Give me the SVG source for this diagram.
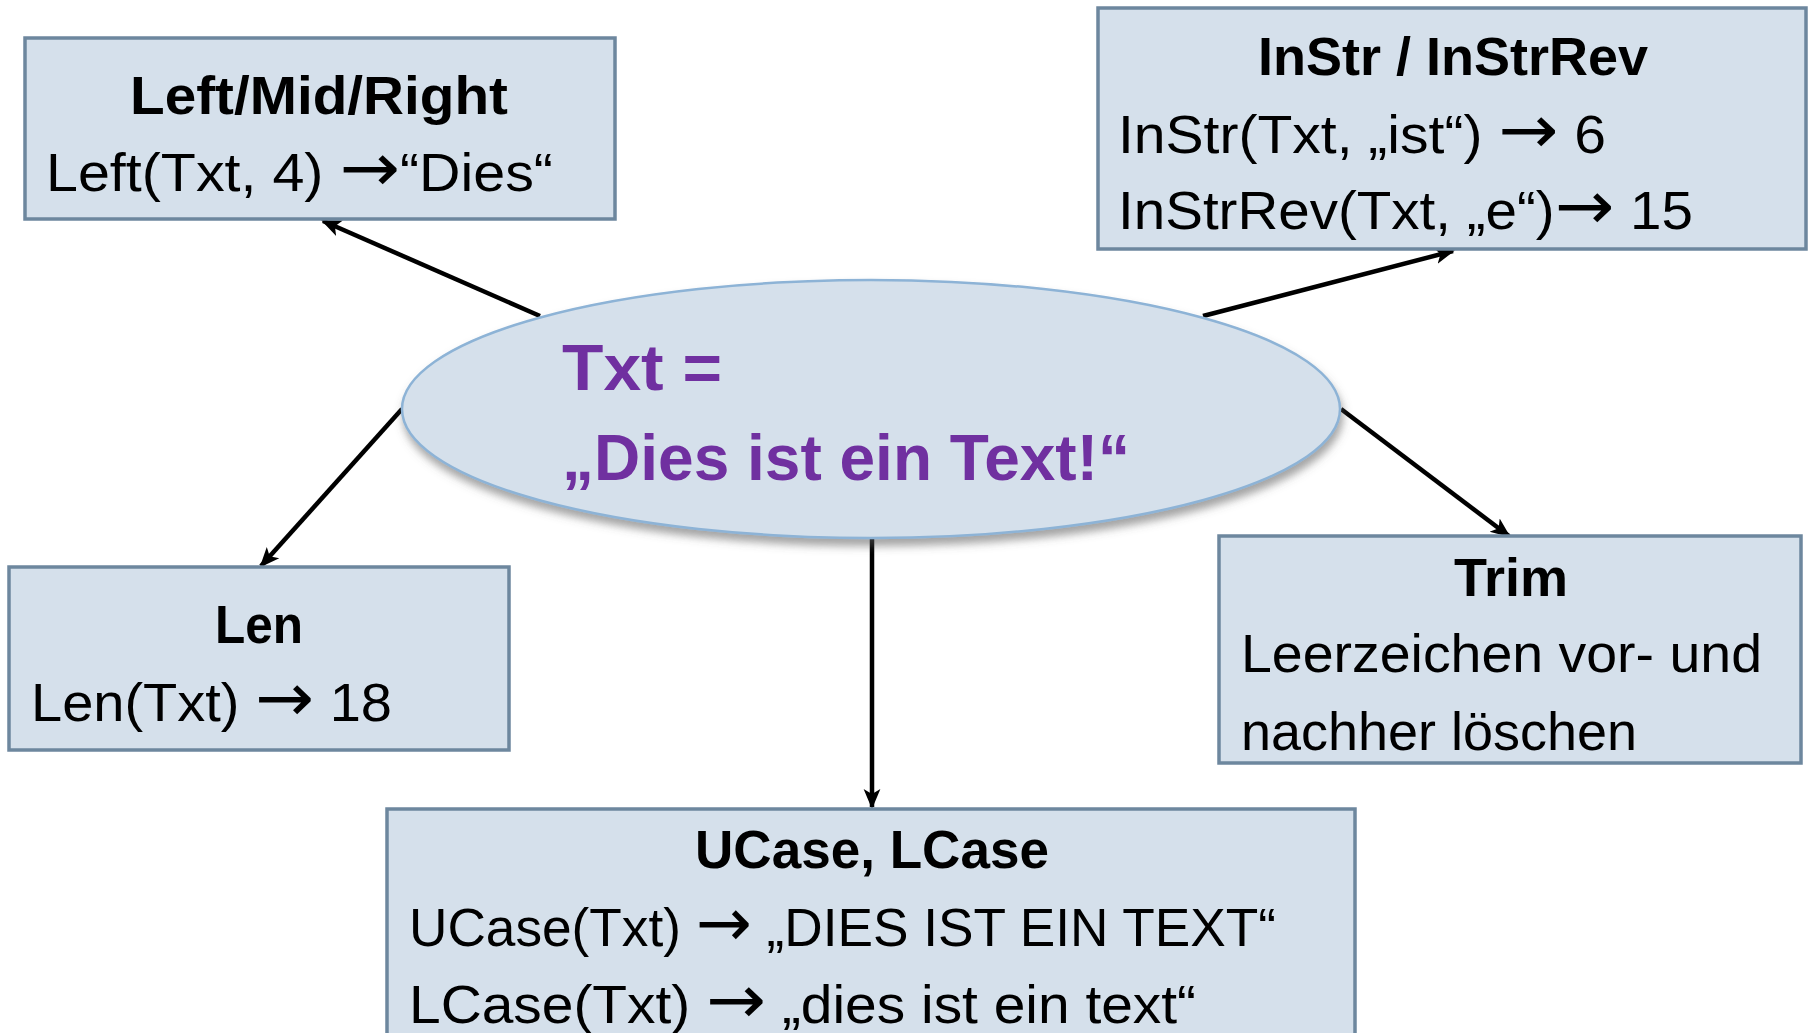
<svg xmlns="http://www.w3.org/2000/svg" width="1808" height="1033" viewBox="0 0 1808 1033">
  <style>
    .box { fill: #d5e0eb; stroke: #6d879e; stroke-width: 3.5; }
    .title { font-family: "Liberation Sans", Arial, sans-serif; font-weight: bold; font-size: 54px; fill: #000; text-anchor: middle; }
    .body { font-family: "Liberation Sans", Arial, sans-serif; font-size: 54px; fill: #000; }
    .arr { font-family: "DejaVu Sans", sans-serif; font-size: 68px; }
    .center { font-family: "Liberation Sans", Arial, sans-serif; font-weight: bold; font-size: 64px; fill: #7030a0; }
    .conn { stroke: #000; stroke-width: 4.5; fill: none; marker-end: url(#arrow); }
  </style>
  <defs>
    <marker id="arrow" viewBox="0 0 10 10" refX="9" refY="5" markerWidth="20" markerHeight="20" markerUnits="userSpaceOnUse" orient="auto">
      <path d="M0,0.8 L10,5 L0,9.2 L2.5,5 Z" fill="#000"/>
    </marker>
    <filter id="shadow" x="-10%" y="-20%" width="120%" height="150%">
      <feDropShadow dx="2" dy="7" stdDeviation="4" flood-color="#5a5a5a" flood-opacity="0.55"/>
    </filter>
  </defs>
  <rect width="1808" height="1033" fill="#fff"/>

  <!-- connectors from the central string to each function box -->
  <g id="connectors">
    <line class="conn" x1="540" y1="316" x2="323" y2="221"/>
    <line class="conn" x1="1203" y1="316" x2="1453" y2="251"/>
    <line class="conn" x1="402" y1="409" x2="261" y2="566"/>
    <line class="conn" x1="1341" y1="409" x2="1509" y2="536"/>
    <line class="conn" x1="872" y1="538" x2="872" y2="807"/>
  </g>

  <g id="txt">
    <ellipse cx="871" cy="409" rx="469" ry="129" fill="#d5e0eb" stroke="#8db3d6" stroke-width="2.5" filter="url(#shadow)"/>
    <text class="center" x="562" y="390" textLength="160" lengthAdjust="spacingAndGlyphs">Txt =</text>
    <text class="center" x="562" y="480" textLength="568" lengthAdjust="spacingAndGlyphs">„Dies ist ein Text!“</text>
  </g>

  <g id="left-mid-right">
    <rect class="box" x="25" y="38" width="590" height="181"/>
    <text class="title" x="319" y="114" textLength="378" lengthAdjust="spacingAndGlyphs">Left/Mid/Right</text>
    <text class="body" x="46" y="191" textLength="507" lengthAdjust="spacingAndGlyphs">Left(Txt, 4) <tspan class="arr">→</tspan>“Dies“</text>
  </g>

  <g id="instr">
    <rect class="box" x="1098" y="8" width="708" height="241"/>
    <text class="title" x="1453" y="75" textLength="390" lengthAdjust="spacingAndGlyphs">InStr / InStrRev</text>
    <text class="body" x="1118" y="153" textLength="488" lengthAdjust="spacingAndGlyphs">InStr(Txt, „ist“) <tspan class="arr">→</tspan> 6</text>
    <text class="body" x="1118" y="229" textLength="575" lengthAdjust="spacingAndGlyphs">InStrRev(Txt, „e“)<tspan class="arr">→</tspan> 15</text>
  </g>

  <g id="len">
    <rect class="box" x="9" y="567" width="500" height="183"/>
    <text class="title" x="259" y="643" textLength="88" lengthAdjust="spacingAndGlyphs">Len</text>
    <text class="body" x="31" y="721" textLength="361" lengthAdjust="spacingAndGlyphs">Len(Txt) <tspan class="arr">→</tspan> 18</text>
  </g>

  <g id="trim">
    <rect class="box" x="1219" y="536" width="582" height="227"/>
    <text class="title" x="1511" y="596" textLength="114" lengthAdjust="spacingAndGlyphs">Trim</text>
    <text class="body" x="1241" y="672" textLength="521" lengthAdjust="spacingAndGlyphs">Leerzeichen vor- und</text>
    <text class="body" x="1241" y="750" textLength="396" lengthAdjust="spacingAndGlyphs">nachher löschen</text>
  </g>

  <g id="ucase-lcase">
    <rect class="box" x="387" y="809" width="968" height="240"/>
    <text class="title" x="872" y="868" textLength="354" lengthAdjust="spacingAndGlyphs">UCase, LCase</text>
    <text class="body" x="409" y="946" textLength="867" lengthAdjust="spacingAndGlyphs">UCase(Txt) <tspan class="arr">→</tspan> „DIES IST EIN TEXT“</text>
    <text class="body" x="409" y="1023" textLength="787" lengthAdjust="spacingAndGlyphs">LCase(Txt) <tspan class="arr">→</tspan> „dies ist ein text“</text>
  </g>
</svg>
